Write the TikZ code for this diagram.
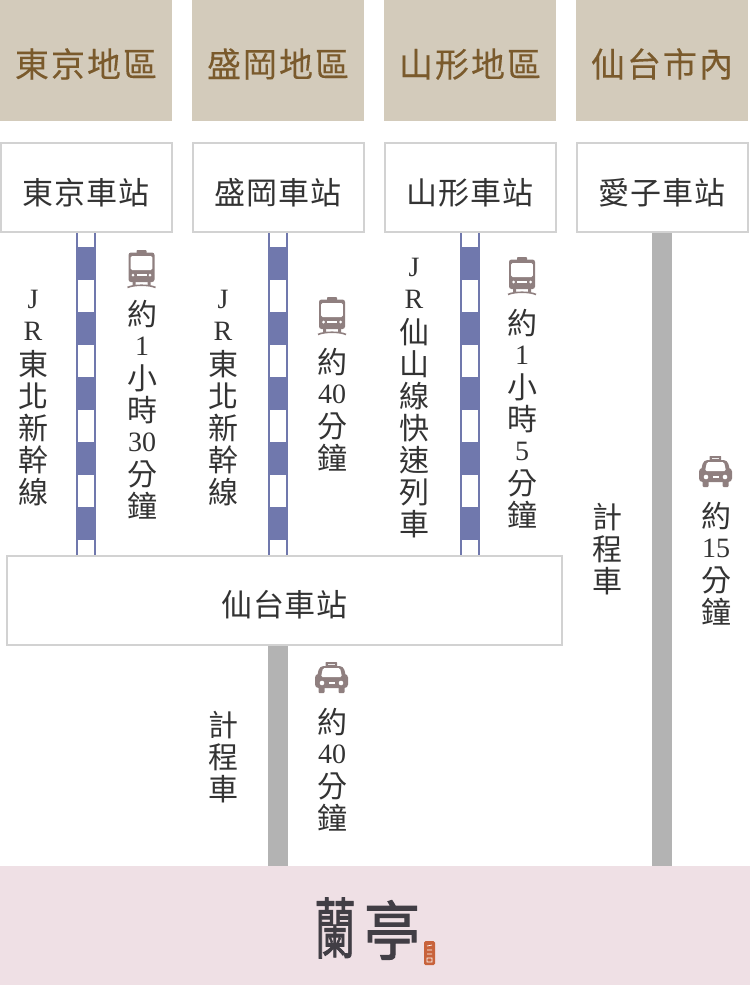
\documentclass[tikz,border=0pt]{standalone}
\usepackage{fontspec}
\usetikzlibrary{backgrounds}
\setmainfont{Noto Sans CJK TC}
\newfontfamily\lat{Liberation Serif}
\definecolor{headfill}{HTML}{D3CBBB}
\definecolor{headtext}{HTML}{7A5A2C}
\definecolor{boxline}{HTML}{D2D2D2}
\definecolor{inktext}{HTML}{333333}
\definecolor{railblue}{HTML}{7078AD}
\definecolor{roadgrey}{HTML}{B3B3B3}
\definecolor{iconcol}{HTML}{8F7F7F}
\definecolor{footfill}{HTML}{EFE0E5}
\definecolor{logoink}{HTML}{413E45}
\definecolor{sealred}{HTML}{C8633C}
\newcommand{\La}[1]{\raisebox{2.5pt}{\lat\fontsize{28}{32}\selectfont #1}}
\tikzset{
  x=1pt,y=-1pt,
  head/.style={fill=headfill,minimum width=172pt,minimum height=121pt,inner sep=0pt,text=headtext,text height=33pt,text depth=0pt,
    font=\fontsize{34}{36}\selectfont\addfontfeature{LetterSpace=6,FakeBold=0.2}},
  stationbox/.style={draw=boxline,line width=2pt,fill=white,minimum width=171pt,minimum height=89pt,inner sep=0pt,text=inktext,text height=33pt,text depth=0pt,
    font=\fontsize{31}{34}\selectfont\addfontfeature{LetterSpace=3}},
  vtext/.style={align=center,inner sep=0pt,text=inktext,font=\fontsize{30}{32}\selectfont},
  railbase/.style={draw=railblue,line width=20pt},
  railgap/.style={draw=white,line width=15.5pt,dash pattern=on 32pt off 33pt,dash phase=18pt},
  road/.style={draw=roadgrey,line width=20pt},
  trainicon/.pic={
    \fill[iconcol,rounded corners=0.8pt] (-5,0) rectangle (5,4);
    \fill[iconcol,rounded corners=2.5pt] (-13,2.5) rectangle (13,32);
    \fill[white,rounded corners=1.5pt] (-10.8,6) rectangle (10.8,20);
    \fill[white] (-8.5,25) circle (1.5) (8.5,25) circle (1.5);
    \fill[white] (-5,24.4) rectangle (5,25.6);
    \fill[iconcol] (-9,31) rectangle (-6,35) (6,31) rectangle (9,35);
    \draw[iconcol,line width=1.6pt] (-14,37.5) .. controls (-8,34.5) and (8,34.5) .. (14,37.5);
  },
  taxiicon/.pic={
    \fill[iconcol,rounded corners=0.5pt] (-6,0) rectangle (5.5,5);
    \fill[white!85!iconcol] (-4,1.6) rectangle (3.5,3.4);
    \fill[iconcol,rounded corners=4pt] (-12,4) -- (12,4) -- (15,17) -- (-15,17) -- cycle;
    \fill[iconcol,rounded corners=3.5pt] (-16.5,12) rectangle (16.5,26);
    \fill[white,rounded corners=1.5pt] (-8.5,6) -- (8.5,6) -- (10.5,15) -- (-10.5,15) -- cycle;
    \fill[iconcol,rounded corners=1pt] (-13,24) rectangle (-7,31) (7,24) rectangle (13,31);
    \fill[white] (-9.5,21) circle (2.3) (9.5,21) circle (2.3);
    \fill[white] (-3,19.8) rectangle (3,22.2);
  }
}
\begin{document}
\begin{tikzpicture}
\useasboundingbox (0,0) rectangle (750,985);
% header
\node[head] (h1) at (86,60.5) {東京地區};
\node[head] (h2) at (278,60.5) {盛岡地區};
\node[head] (h3) at (470,60.5) {山形地區};
\node[head] (h4) at (662,60.5) {仙台市內};
% footer
\node[fill=footfill,minimum width=750pt,minimum height=119pt,inner sep=0pt] (ran) at (375,925.5) {};
% stations
\node[stationbox] (s1) at (86,187.5) {東京車站};
\node[stationbox] (s2) at (278,187.5) {盛岡車站};
\node[stationbox] (s3) at (470,187.5) {山形車站};
\node[stationbox] (s4) at (662,187.5) {愛子車站};
\node[stationbox,minimum width=555pt,minimum height=89pt,text height=32pt] (sendai) at (284.5,600) {仙台車站};
\coordinate (sendaiRoad) at (278,645);
% connectors
\begin{scope}[on background layer]
\foreach \s in {s1,s2,s3}{
  \draw[railbase] (\s.south) -- (\s.south |- sendai.north);
  \draw[railgap] (\s.south) -- (\s.south |- sendai.north);
}
\draw[road] (s4.south) -- (s4.south |- ran.north);
\draw[road] (sendaiRoad) -- (sendaiRoad |- ran.north);
\end{scope}
% column 1
\node[vtext] (t1a) at (33,398) {\La{J}\\\La{R}\\東\\北\\新\\幹\\線};
\pic at (141.5,250) {trainicon};
\node[vtext] (t1b) at (142,410) {約\\\La{1}\\小\\時\\\La{30}\\分\\鐘};
% column 2
\node[vtext] (t2a) at (223,398) {\La{J}\\\La{R}\\東\\北\\新\\幹\\線};
\pic at (332,297) {trainicon};
\node[vtext] (t2b) at (332,410) {約\\\La{40}\\分\\鐘};
% column 3
\node[vtext] (t3a) at (414,398) {\La{J}\\\La{R}\\仙\\山\\線\\快\\速\\列\\車};
\pic at (522,257) {trainicon};
\node[vtext] (t3b) at (522,419) {約\\\La{1}\\小\\時\\\La{5}\\分\\鐘};
% column 4
\node[vtext] (t4a) at (607,549) {計\\程\\車};
\pic at (715.5,456) {taxiicon};
\node[vtext] (t4b) at (716,564) {約\\\La{15}\\分\\鐘};
% bottom
\node[vtext] (t5a) at (223,757) {計\\程\\車};
\pic at (331.5,662) {taxiicon};
\node[vtext] (t5b) at (332,770) {約\\\La{40}\\分\\鐘};
% logo
\node[inner sep=0pt,text=logoink,font=\fontsize{50}{50}\selectfont\addfontfeature{FakeBold=1.5},yscale=1.32,xscale=0.82] (logoa) at (335,928) {蘭};
\node[inner sep=0pt,text=logoink,font=\fontsize{56}{56}\selectfont\addfontfeature{FakeBold=1.5},yscale=1.15] (logob) at (392,930) {亭};
\fill[sealred,rounded corners=1.5pt] (424,941) rectangle (435,965);
\draw[white,line width=0.7pt] (427,946) -- (432,945) (427,950) -- (432,950) (427,954) -- (432,954) (427,958) rectangle (432,962);
\end{tikzpicture}
\end{document}
